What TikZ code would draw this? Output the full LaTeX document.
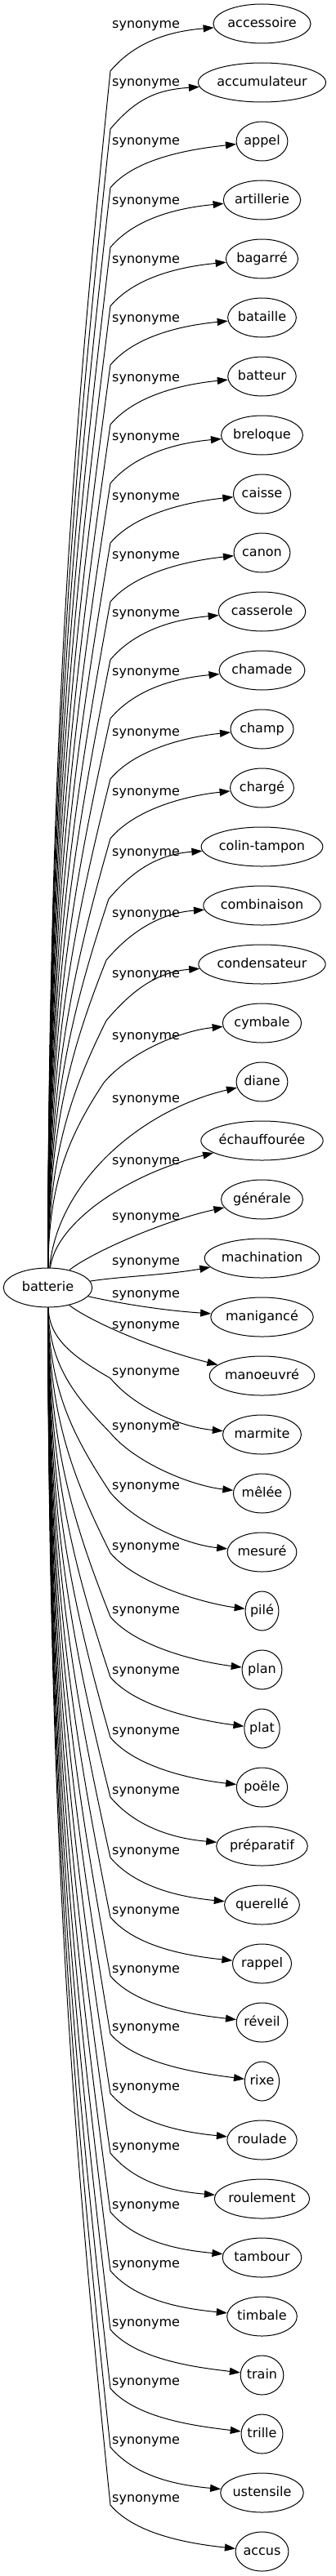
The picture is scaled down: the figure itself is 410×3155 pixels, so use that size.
\documentclass[tikz,border=0pt]{standalone}
\usepackage{fontspec}
\setmainfont{DejaVu Sans}
\usetikzlibrary{arrows.meta,shapes.geometric,calc}
\begin{document}
\begin{tikzpicture}[x=1pt,y=-1pt,
  syn/.style={draw, ellipse, line width=1pt, inner sep=0pt, minimum height=48pt, text height=12pt, text depth=3.5pt},
  lab/.style={inner sep=0pt, anchor=base west},
  edge/.style={draw, line width=1pt, -{Triangle[length=13pt,width=9pt]}}]
\fontsize{16}{19}\selectfont
\useasboundingbox (0,0) rectangle (410,3155);
\node[syn, minimum width=108.5pt] (bat) at (58.5,1577) {batterie};
\foreach \i/\w in {0/accessoire,1/accumulateur,2/appel,3/artillerie,4/bagarré,5/bataille,6/batteur,7/breloque,8/caisse,9/canon,10/casserole,11/chamade,12/champ,13/chargé,14/colin-tampon,15/combinaison,16/condensateur,17/cymbale,18/diane,19/échauffourée,20/générale,21/machination,22/manigancé,23/manoeuvré,24/marmite,25/mêlée,26/mesuré,27/pilé,28/plan,29/plat,30/poële,31/préparatif,32/querellé,33/rappel,34/réveil,35/rixe,36/roulade,37/roulement,38/tambour,39/timbale,40/train,41/trille,42/ustensile,43/accus}{
  \pgfmathsetmacro\ny{29+72*\i}
  \sbox0{\w}
  \pgfmathsetmacro\mw{1.258*\wd0+29}
  \node[syn, minimum width=\mw pt] (n\i) at (320.5,\ny) {\w};
}
\foreach \i/\ly in {0/30,1/101,2/173,3/246,4/318,5/390,6/463,7/535,8/608,9/680,10/751,11/823,12/897,13/970,14/1044,15/1119,16/1193,17/1269,18/1346,19/1422,20/1490,21/1545,22/1585,23/1623,24/1680,25/1747,26/1820,27/1894,28/1972,29/2046,30/2120,31/2193,32/2267,33/2340,34/2412,35/2483,36/2556,37/2629,38/2701,39/2773,40/2845,41/2917,42/2989,43/3060}{
  \node[lab] (l\i) at (137,\ly+4.4) {synonyme};
}
\foreach \i/\ly/\bx in {0/30/135,1/101/135,2/173/135,3/246/135,4/318/135,5/390/135,6/463/135,7/535/135,8/608/135,9/680/135,10/751/135,11/823/135,12/897/135,13/970/135,14/1044/133,15/1119/130,16/1193/130,17/1269/127}{
  \pgfmathsetmacro\by{\ly+57}
  \pgfmathsetmacro\ca{1553-0.45*(1553-\by)}
  \pgfmathsetmacro\cb{\by+0.3*(1553-\by)}
  \draw[edge] (bat) .. controls (60,\ca) and (\bx-45,\cb) .. (\bx,\by) .. controls (\bx+32,\by-38) and ($(n\i.west)+(-49,9)$) .. (n\i);
}
\foreach \i/\ly in {24/1680,25/1747,26/1820,27/1894,28/1972,29/2046,30/2120,31/2193,32/2267,33/2340,34/2412,35/2483,36/2556,37/2629,38/2701,39/2773,40/2845,41/2917,42/2989,43/3060}{
  \pgfmathsetmacro\by{\ly+8}
  \pgfmathsetmacro\ca{1601+0.45*(\by-1601)}
  \pgfmathsetmacro\cb{\by-0.3*(\by-1601)}
  \draw[edge] (bat) .. controls (60,\ca) and (90,\cb) .. (135,\by) .. controls (167,\by+38) and ($(n\i.west)+(-49,-9)$) .. (n\i);
}
\draw[edge] (bat) .. controls (70,1450) and (170,1360) .. (n18);
\draw[edge] (bat) .. controls (68,1500) and (150,1440) .. (n19);
\draw[edge] (bat) .. controls (110,1535) and (200,1495) .. (n20);
\draw[edge] (bat) .. controls (150,1563) and (200,1562) .. (n21);
\draw[edge] (bat) .. controls (150,1597) and (200,1605) .. (n22);
\draw[edge] (bat) .. controls (105,1615) and (180,1650) .. (n23);
\end{tikzpicture}
\end{document}
